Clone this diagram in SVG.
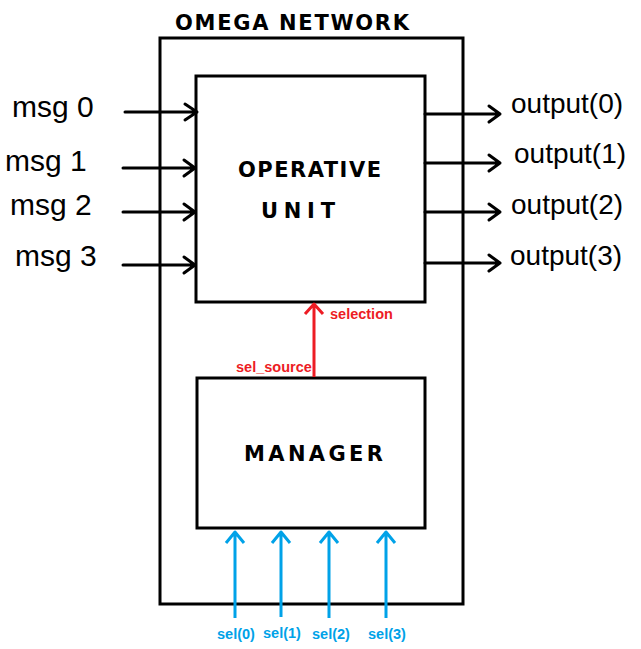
<svg xmlns="http://www.w3.org/2000/svg" width="641" height="649" viewBox="0 0 641 649">
<style>
.box{fill:#fff;stroke:#000;stroke-width:3}
.hand{font-family:"DejaVu Sans","Liberation Sans",sans-serif;fill:#000}
.cap{font-size:21px;font-weight:bold}
.big{font-family:"Liberation Sans",Arial,sans-serif;fill:#000}
.m{font-size:30px}
.o{font-size:28px}
.k{stroke:#000;stroke-width:3;fill:none;stroke-linecap:round;stroke-linejoin:round}
.r{stroke:#ed1c24;stroke-width:3;fill:none;stroke-linejoin:round}
.b{stroke:#00a2e8;stroke-width:3;fill:none;stroke-linejoin:round}
.lr{font-family:"Liberation Sans",Arial,sans-serif;font-weight:bold;font-size:14.5px;fill:#ed1c24}
.lb{font-family:"Liberation Sans",Arial,sans-serif;font-weight:bold;font-size:14.5px;fill:#00a2e8}
</style>
<rect width="641" height="649" fill="#fff"/>
<g id="omega-network">
<rect class="box" x="160" y="38" width="303" height="566"/>
<text class="hand cap" x="175" y="30" textLength="234" lengthAdjust="spacing">OMEGA NETWORK</text>
</g>
<g id="operative-unit">
<rect class="box" x="196" y="76" width="229" height="226"/>
<text class="hand cap" x="238" y="177" textLength="143" lengthAdjust="spacing">OPERATIVE</text>
<text class="hand cap" x="261" y="218" textLength="74" lengthAdjust="spacing">UNIT</text>
</g>
<g id="manager">
<rect class="box" x="197" y="378" width="228" height="150"/>
<text class="hand cap" x="244" y="461" textLength="139" lengthAdjust="spacing">MANAGER</text>
</g>
<g id="inputs">
<text class="big m" x="12" y="117">msg 0</text>
<text class="big m" x="5" y="171">msg 1</text>
<text class="big m" x="10" y="215">msg 2</text>
<text class="big m" x="15" y="266">msg 3</text>
</g>
<g id="outputs">
<text class="big o" x="511" y="113">output(0)</text>
<text class="big o" x="514" y="163">output(1)</text>
<text class="big o" x="511" y="214">output(2)</text>
<text class="big o" x="510" y="265">output(3)</text>
</g>
<g id="connectors">
<path class="k" d="M125 112H197M185 104L197 112L185 120"/>
<path class="k" d="M123 168H195M184 160L195 168L184 176"/>
<path class="k" d="M123 212H195M184 204L195 212L184 220"/>
<path class="k" d="M123 265H195M184 257L195 265L184 273"/>
<path class="k" d="M425 114H500M489 106L500 114L489 122"/>
<path class="k" d="M425 163H500M489 155L500 163L489 171"/>
<path class="k" d="M425 212H500M489 204L500 212L489 220"/>
<path class="k" d="M425 263H500M489 255L500 263L489 271"/>
<path class="r" d="M314 377V304M305 314L314 304L323 314"/>
<path class="b" d="M235 618V532M226 543L235 532L244 543"/>
<path class="b" d="M281 617V532M272 543L281 532L290 543"/>
<path class="b" d="M329 618V532M320 543L329 532L338 543"/>
<path class="b" d="M386 618V532M377 543L386 532L395 543"/>
</g>
<g id="labels">
<text class="lr" x="330" y="319">selection</text>
<text class="lr" x="236" y="372">sel_source</text>
<text class="lb" x="217" y="639">sel(0)</text>
<text class="lb" x="263" y="638">sel(1)</text>
<text class="lb" x="312" y="639">sel(2)</text>
<text class="lb" x="368" y="639">sel(3)</text>
</g>
</svg>
